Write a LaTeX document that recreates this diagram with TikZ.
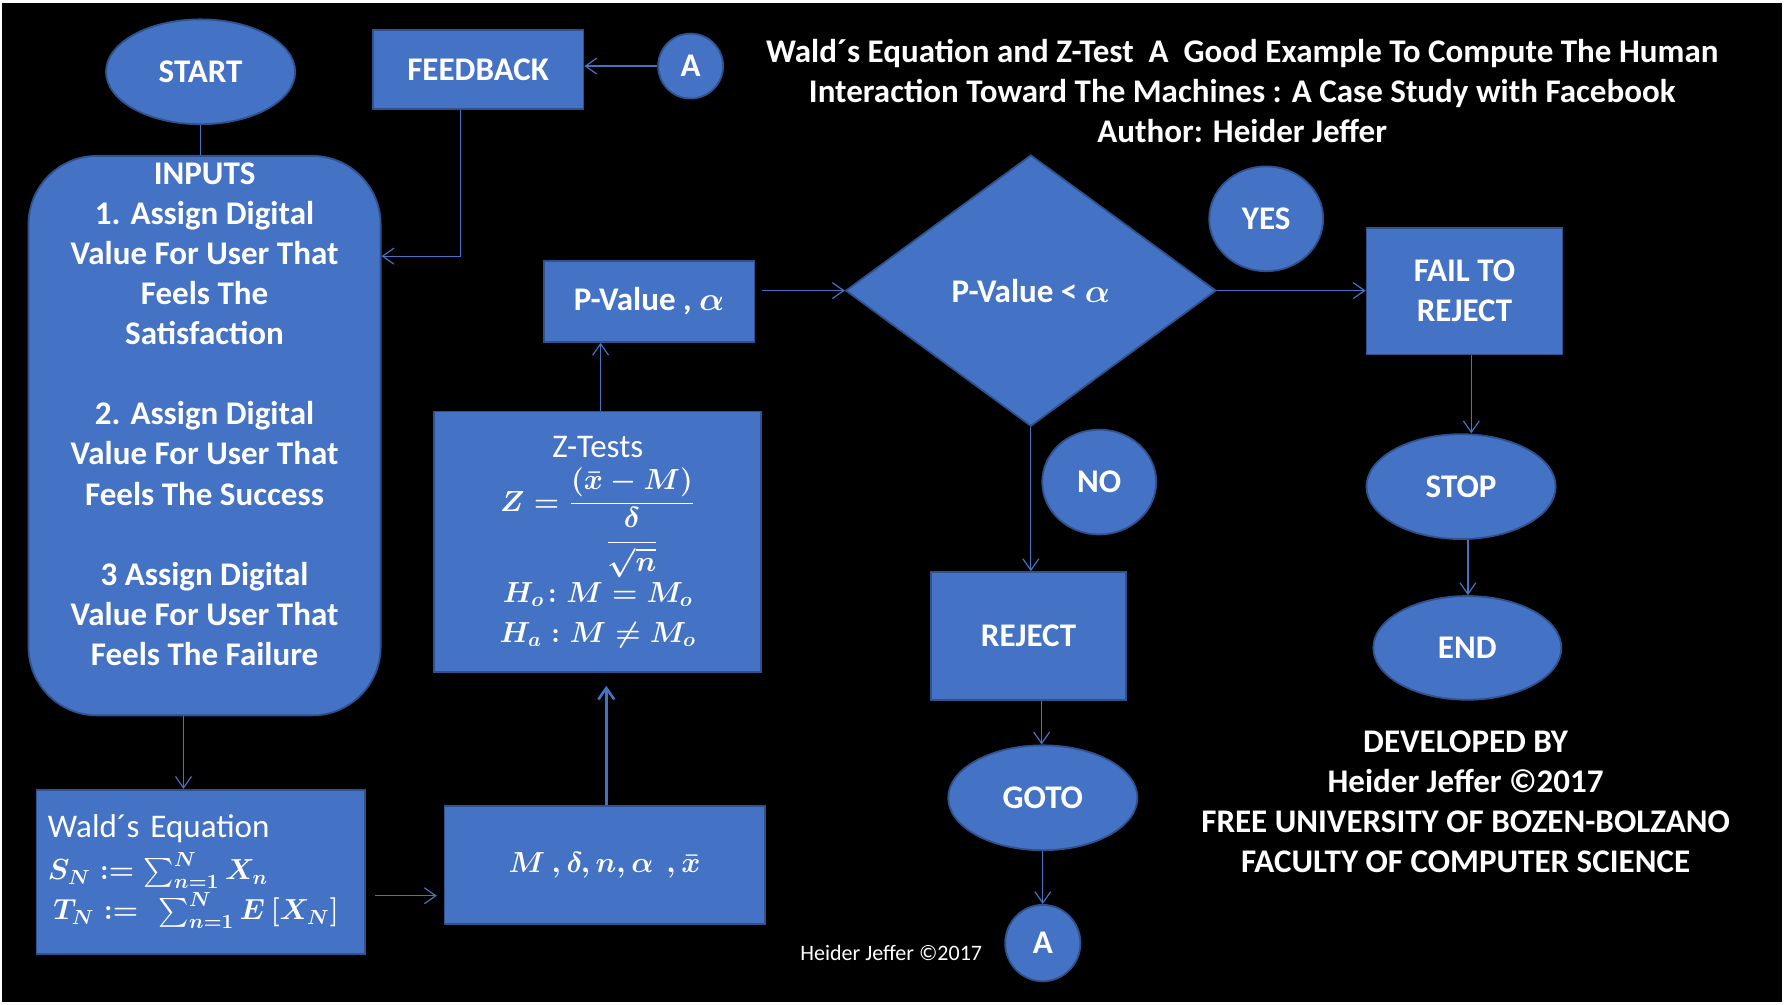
\RequirePackage{fix-cm}
\documentclass[tikz,border=0pt]{standalone}
\usepackage{amsmath}
\usepackage{fontspec}
\setmainfont{Carlito}
\usepackage{tikz}
\usetikzlibrary{arrows.meta,positioning,shapes.geometric}
\definecolor{boxblue}{HTML}{4472C4}
\definecolor{boxedge}{HTML}{2F528F}
\definecolor{wireblue}{HTML}{4472C4}
\newcommand{\mathsz}{\fontsize{14.5}{18}\selectfont}
\tikzset{
  block/.style={draw=boxedge, line width=0.9pt, fill=boxblue, text=white, align=center,
    font=\bfseries\fontsize{16.5}{20}\selectfont, inner sep=2pt},
  procbox/.style={block, rectangle},
  termnode/.style={block, ellipse, minimum width=3.32cm, minimum height=1.84cm},
  tagnode/.style={block, ellipse, minimum width=2cm, minimum height=1.84cm},
  linknode/.style={block, ellipse, inner sep=0pt},
  decision/.style={block, diamond, inner sep=0pt, minimum width=6.5cm, minimum height=4.76cm},
  arr/.style={-{Straight Barb[length=2mm,width=2.8mm]}, draw=wireblue, line width=0.6pt},
  wire/.style={draw=wireblue, line width=0.6pt},
  plain/.style={text=white, align=center, font=\bfseries\fontsize{16.5}{20}\selectfont}
}

\begin{document}
\boldmath
\begin{tikzpicture}[x=0.02cm, y=-0.02cm]
  \useasboundingbox (0,0) rectangle (1568,881);
  \fill[white] (0,0) rectangle (1568,881);
  \fill[black] (2,3) rectangle (1564,879);

  % left column
  \node[termnode] (start) at (176,63) {START};
  \node[procbox, minimum width=3.7cm, minimum height=1.4cm] (feedback) at (419.5,61) {FEEDBACK};
  \node[linknode, minimum width=1.14cm, minimum height=1.14cm] (atop) at (606,58) {A};
  \node[procbox, rounded corners=1.2cm, minimum width=6.18cm, minimum height=9.82cm, anchor=north] (inputs) at (179.5,136)
    {INPUTS\\1. Assign Digital\\Value For User That\\Feels The\\Satisfaction\\[20pt]2. Assign Digital\\Value For User That\\Feels The Success\\[20pt]3 Assign Digital\\Value For User That\\Feels The Failure\\[-4.5pt]\strut};
  \node[procbox, minimum width=5.76cm, minimum height=2.88cm, text width=5.36cm, inner xsep=0.2cm, align=left] (wald) at (176,765)
    {\mdseries Wald´s Equation\\[1pt]
     \mbox{\mathsz$S_N \mathrel{:=} \sum_{n=1}^{N} X_n$}\\
     \mbox{\mathsz$\,T_N \mathrel{:=}\ \sum_{n=1}^{N} E\,[X_N]$}};

  % middle column
  \node[procbox, minimum width=5.62cm, minimum height=2.08cm] (params) at (530.5,759)
    {\mathsz$M\ ,\delta, n, \alpha\ \ ,\bar{x}$};
  \node[procbox, minimum width=5.74cm, minimum height=4.58cm] (ztest) at (524.5,475.5)
    {\mdseries Z-Tests\\[4pt]
     \mbox{\mathsz$\displaystyle Z=\frac{(\bar{x}-M)}{\dfrac{\delta}{\sqrt{n}}}$}\\[1pt]
     \mbox{\mathsz$H_o\!: M = M_o$}\\
     \mbox{\mathsz$H_a : M \neq M_o$}};
  \node[procbox, minimum width=3.7cm, minimum height=1.42cm] (pval) at (569.5,264.5) {P-Value , $\alpha$};

  % decision
  \node[decision] (decide) at (904.5,255) {P-Value < $\alpha$};
  \node[tagnode] (yes) at (1111,192) {YES};
  \node[tagnode] (no) at (964.5,423) {NO};
  \node[procbox, minimum width=3.44cm, minimum height=2.22cm] (fail) at (1285,255.5) {FAIL TO\\REJECT};
  \node[termnode] (stop) at (1282,427) {STOP};
  \node[termnode, minimum width=3.3cm, minimum height=1.82cm] (endn) at (1287.5,568.5) {END};
  \node[procbox, minimum width=3.42cm, minimum height=2.24cm] (reject) at (902.5,558) {REJECT};
  \node[termnode] (gotonode) at (915,700) {GOTO};
  \node[linknode, minimum width=1.32cm, minimum height=1.34cm] (abot) at (915,827.5) {A};

  % texts
  \node[plain] (title) at (1090,80)
    {Wald´s Equation and Z-Test\ \ A\ \ Good Example To Compute The Human\\
     Interaction Toward The Machines : A Case Study with Facebook\\
     Author: Heider Jeffer};
  \node[plain] (devby) at (1286,703.5)
    {DEVELOPED BY\\Heider Jeffer ©2017\\FREE UNIVERSITY OF BOZEN-BOLZANO\\FACULTY OF COMPUTER SCIENCE};
  \node[text=white, font=\fontsize{11}{13}\selectfont] (credit) at (782,836) {Heider Jeffer ©2017};

  % connectors
  \draw[wire] (start.south) -- (start.south |- inputs.north);
  \draw[arr] (atop.west) -- (atop.west -| feedback.east);
  \draw[arr] ([xshift=-0.31cm]feedback.south) |- ([yshift=3.15cm]inputs.east);
  \draw[arr] ([xshift=-0.37cm]inputs.south) -- ([xshift=-0.37cm]inputs.south |- wald.north);
  \draw[arr, shorten <=0.16cm, shorten >=0.12cm] ([yshift=-0.42cm]wald.east) -- ([yshift=-0.42cm]wald.east -| params.west);
  \draw[arr, line width=1.3pt, shorten >=0.22cm] ([xshift=0.03cm]params.north) -- ([xshift=0.03cm]params.north |- ztest.south);
  \draw[arr] ([xshift=0.05cm]ztest.north) -- ([xshift=0.05cm]ztest.north |- pval.south);
  \draw[arr, shorten <=0.12cm] (pval.east |- decide.west) -- (decide.west);
  \draw[arr] (decide.east) -- (fail.west |- decide.east);
  \draw[arr] ([xshift=0.12cm]fail.south) -- ([xshift=0.12cm]fail.south |- stop.north);
  \draw[arr] ([xshift=0.12cm]stop.south) -- ([xshift=0.12cm]stop.south |- endn.north);
  \draw[arr] (decide.south) -- (decide.south |- reject.north);
  \draw[arr] ([xshift=0.23cm]reject.south) -- ([xshift=0.23cm]reject.south |- gotonode.north);
  \draw[arr] (gotonode.south) -- (abot.north);
\end{tikzpicture}
\end{document}
